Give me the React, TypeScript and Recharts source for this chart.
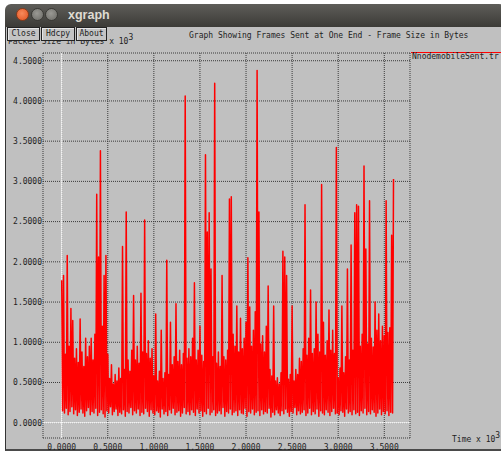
import React from 'react';
import { LineChart, Line, XAxis, YAxis, CartesianGrid, ReferenceLine } from 'recharts';

// Sampling step of the trace (x 10^3 seconds); highs at t = i*STEP, lows halfway between.
const STEP = 0.02;

// Upper values of the packet-size trace (x 10^3 bytes).
const highs = [
  1.77, 1.83, 0.85, 2.08, 0.95, 1.42, 1.27, 0.80, 0.92, 0.75,
  1.29, 0.88, 0.70, 1.05, 0.82, 0.95, 1.05, 0.78, 1.10, 2.84,
  2.06, 3.38, 1.20, 1.83, 2.08, 0.85, 0.55, 0.72, 0.48, 0.60,
  0.52, 0.68, 0.55, 2.19, 0.66, 2.62, 0.78, 0.64, 0.90, 1.58,
  0.78, 0.95, 0.74, 1.61, 0.88, 2.52, 0.86, 1.02, 0.80, 0.92,
  0.58, 1.35, 0.52, 0.64, 1.15, 0.55, 0.62, 2.02, 0.60, 1.25,
  0.72, 0.82, 1.48, 0.76, 0.90, 0.72, 0.86, 4.06, 0.80, 0.92,
  0.82, 1.05, 1.74, 0.78, 0.90, 1.20, 0.84, 0.76, 3.33, 2.37,
  2.61, 1.91, 0.82, 4.22, 0.74, 0.88, 0.70, 1.83, 0.82, 0.78,
  0.90, 2.78, 2.81, 1.10, 0.95, 1.45, 0.88, 1.30, 0.92, 1.05,
  1.25, 2.05, 1.44, 0.95, 1.15, 1.38, 4.38, 2.62, 0.98, 1.08,
  0.88, 1.20, 1.70, 0.66, 0.58, 1.45, 0.52, 0.56, 0.48, 0.62,
  2.13, 2.06, 1.83, 0.54, 0.60, 1.45, 0.52, 0.66, 0.60, 0.80,
  0.76, 0.92, 2.71, 0.84, 1.05, 1.65, 0.86, 0.92, 1.50, 1.10,
  0.88, 2.96, 1.25, 0.84, 1.02, 1.40, 0.90, 1.15, 0.86, 3.42,
  0.56, 0.68, 1.45, 0.62, 0.82, 1.91, 0.78, 2.21, 0.90, 2.61,
  2.71, 2.69, 0.95, 1.10, 3.19, 2.16, 0.98, 2.76, 1.05, 0.94,
  1.50, 1.15, 1.35, 1.02, 1.20, 1.08, 2.76, 1.12, 1.18, 2.33,
  3.03,
];

// Lower values of the trace, between consecutive highs.
const lows = [
  0.15, 0.12, 0.18, 0.10, 0.14, 0.20, 0.11, 0.16, 0.09, 0.13,
  0.17, 0.12, 0.08, 0.15, 0.19, 0.10, 0.14, 0.12, 0.18, 0.09,
  0.13, 0.16, 0.11, 0.07, 0.15, 0.12, 0.20, 0.10, 0.14, 0.17,
  0.09, 0.13, 0.11, 0.16, 0.08, 0.14, 0.12, 0.19, 0.10, 0.15,
  0.12, 0.17, 0.09, 0.13, 0.11, 0.18, 0.14, 0.08, 0.16, 0.12,
  0.10, 0.15, 0.13, 0.07, 0.17, 0.11, 0.14, 0.09, 0.16, 0.12,
  0.18, 0.10, 0.13, 0.15, 0.08, 0.12, 0.19, 0.11, 0.14, 0.10,
  0.16, 0.13, 0.09, 0.17, 0.12, 0.15, 0.08, 0.14, 0.11, 0.18,
  0.10, 0.13, 0.16, 0.09, 0.12, 0.15, 0.11, 0.19, 0.08, 0.14,
  0.12, 0.17, 0.10, 0.13, 0.15, 0.09, 0.16, 0.12, 0.11, 0.18,
  0.08, 0.14, 0.12, 0.17, 0.10, 0.13, 0.15, 0.09, 0.16, 0.11,
  0.14, 0.12, 0.18, 0.07, 0.13, 0.10, 0.16, 0.12, 0.09, 0.15,
  0.11, 0.17, 0.13, 0.08, 0.14, 0.12, 0.19, 0.10, 0.15, 0.11,
  0.13, 0.16, 0.09, 0.12, 0.18, 0.10, 0.14, 0.11, 0.17, 0.08,
  0.15, 0.12, 0.10, 0.16, 0.13, 0.09, 0.14, 0.18, 0.11, 0.12,
  0.10, 0.15, 0.13, 0.08, 0.17, 0.12, 0.14, 0.10, 0.16, 0.11,
  0.13, 0.09, 0.15, 0.12, 0.18, 0.10, 0.14, 0.11, 0.16, 0.13,
  0.08, 0.12, 0.17, 0.10, 0.14, 0.11, 0.15, 0.09, 0.13, 0.12,
];

const xTicks = [0, 0.5, 1, 1.5, 2, 2.5, 3, 3.5];
const yTicks = [0, 0.5, 1, 1.5, 2, 2.5, 3, 3.5, 4, 4.5];

const windowTitle = 'xgraph';
const buttons = ['Close', 'Hdcpy', 'About'];
const chartTitle = 'Graph Showing Frames Sent at One End - Frame Size in Bytes';
const yLabel = 'Packet Size in Bytes x 10';
const xLabel = 'Time x 10';
const exponent = '3';
const seriesName = 'NnodemobileSent.tr';

const data: { t: number; v: number }[] = [];
highs.forEach((h, i) => {
  data.push({ t: +(i * STEP).toFixed(4), v: h });
  if (i < lows.length) data.push({ t: +(i * STEP + STEP / 2).toFixed(4), v: lows[i] });
});

const MONO = '"DejaVu Sans Mono", "Liberation Mono", monospace';
const TEXT = '#1e1e1e';

const abs = (left: number, top: number, extra: React.CSSProperties = {}): React.CSSProperties => ({
  position: 'absolute',
  left,
  top,
  ...extra,
});

const textStyle: React.CSSProperties = {
  fontFamily: MONO,
  fontSize: 8,
  lineHeight: '8px',
  color: TEXT,
  whiteSpace: 'nowrap',
};

const circle = (left: number, bg: string, border: string): React.CSSProperties => ({
  position: 'absolute',
  left,
  top: 8,
  width: 13,
  height: 13,
  borderRadius: '50%',
  background: bg,
  border: `1px solid ${border}`,
  boxSizing: 'border-box',
});

export default function App() {
  const buttonBoxes = [
    { left: 7, width: 33 },
    { left: 41, width: 34 },
    { left: 76, width: 31 },
  ];
  return (
    <div style={{ position: 'absolute', left: 0, top: 0, width: 501, height: 453, background: '#ffffff', overflow: 'hidden' }}>
      {/* window title bar */}
      <div
        style={abs(5, 4, {
          width: 500,
          height: 23,
          borderRadius: '6px 6px 0 0',
          background: 'linear-gradient(#5e5d59, #3c3b37)',
        })}
      />
      <div style={circle(16, 'radial-gradient(circle at 45% 40%, #f78a5c, #e2521f)', '#8a3a1a')} />
      <div style={circle(31, 'radial-gradient(circle at 45% 40%, #9a9994, #6a6964)', '#3a3935')} />
      <div style={circle(45, 'radial-gradient(circle at 45% 40%, #9a9994, #6a6964)', '#3a3935')} />
      <div
        style={abs(68, 8, {
          fontFamily: '"Liberation Sans", Arial, sans-serif',
          fontWeight: 'bold',
          fontSize: 12.5,
          lineHeight: '14px',
          color: '#dfdbd2',
        })}
      >
        {windowTitle}
      </div>

      {/* window content */}
      <div
        style={abs(5, 27, {
          width: 500,
          height: 424,
          background: '#c0c0c0',
          borderLeft: '1px solid #333',
          borderBottom: '2px solid #4a4a4a',
          boxSizing: 'border-box',
        })}
      />

      <div style={abs(0, 0)}>
        <LineChart width={501} height={453} data={data} margin={{ top: 53, right: 91, bottom: 0, left: 0 }}>
          <CartesianGrid stroke="#3a3a3a" strokeDasharray="1 1" strokeWidth={1} />
          <XAxis
            dataKey="t"
            type="number"
            domain={[-0.2029, 3.779]}
            ticks={xTicks}
            allowDataOverflow
            height={15}
            axisLine={false}
            tickLine={false}
            tickSize={0}
            tickMargin={6}
            interval={0}
            tickFormatter={(v: number) => v.toFixed(4)}
            tick={{ fontFamily: MONO, fontSize: 8, fill: TEXT }}
          />
          <YAxis
            type="number"
            domain={[-0.19, 4.596]}
            ticks={yTicks}
            allowDataOverflow
            width={43}
            axisLine={false}
            tickLine={false}
            tickSize={0}
            tickMargin={1}
            interval={0}
            tickFormatter={(v: number) => v.toFixed(4)}
            tick={{ fontFamily: MONO, fontSize: 8, fill: TEXT }}
          />
          <ReferenceLine x={0} stroke="#ffffff" strokeWidth={1} />
          <ReferenceLine y={0} stroke="#ffffff" strokeWidth={1} />
          <Line
            type="linear"
            dataKey="v"
            name={seriesName}
            stroke="#ff0000"
            strokeWidth={1.5}
            strokeLinejoin="round"
            dot={false}
            activeDot={false}
            isAnimationActive={false}
          />
        </LineChart>
      </div>

      {/* y axis label (partly hidden by buttons) */}
      <div style={abs(8, 38, textStyle)}>
        {yLabel}
        <span style={{ position: 'relative', top: -4 }}>{exponent}</span>
      </div>

      {/* buttons */}
      {buttons.map((b, i) => (
        <div
          key={b}
          style={abs(buttonBoxes[i].left, 27, {
            width: buttonBoxes[i].width,
            height: 14,
            border: '1px solid #222',
            boxShadow: 'inset 1px 1px 0 #e6e6e6',
            background: '#c4c4c4',
            boxSizing: 'border-box',
            ...textStyle,
            lineHeight: '12px',
            textAlign: 'center',
          })}
        >
          {b}
        </div>
      ))}

      {/* chart title */}
      <div style={abs(189, 32, textStyle)}>{chartTitle}</div>

      {/* legend */}
      <div style={abs(411, 52, { width: 95, height: 1, background: '#ff0000' })} />
      <div style={abs(412, 53, textStyle)}>{seriesName}</div>

      {/* x axis label */}
      <div style={abs(452, 436, textStyle)}>
        {xLabel}
        <span style={{ position: 'relative', top: -4 }}>{exponent}</span>
      </div>
    </div>
  );
}
